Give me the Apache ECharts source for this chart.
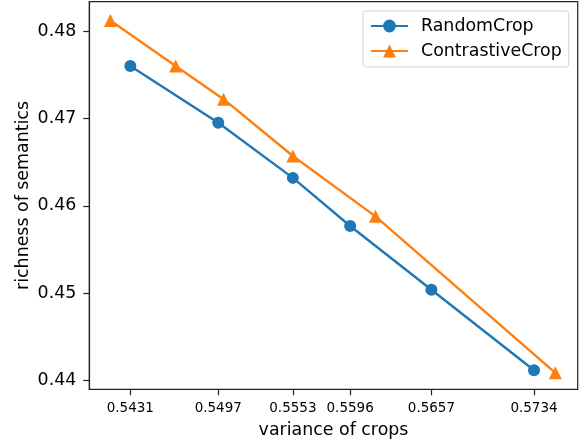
<!DOCTYPE html>
<html>
<head>
<meta charset="utf-8">
<script src="https://cdn.jsdelivr.net/npm/echarts@6/dist/echarts.min.js"></script>
<style>html,body{margin:0;padding:0;background:#fff}#c{width:580px;height:445px}</style>
</head>
<body>
<div id="c"></div>
<script>
const seriesNames = ['RandomCrop', 'ContrastiveCrop'];
const xRandom = [0.5431, 0.5497, 0.5553, 0.5596, 0.5657, 0.5734];
const yRandom = [0.4760, 0.4695, 0.4632, 0.4577, 0.4504, 0.4412];
const xContrastive = [0.5416, 0.5465, 0.5501, 0.5553, 0.5615, 0.5750];
const yContrastive = [0.4812, 0.4760, 0.4722, 0.4657, 0.4588, 0.4409];
const xTicks = [0.5431, 0.5497, 0.5553, 0.5596, 0.5657, 0.5734];
const yTicks = [0.44, 0.45, 0.46, 0.47, 0.48];

const font = 'DejaVu Sans';
const chart = echarts.init(document.getElementById('c'), null, {renderer: 'canvas'});
const pairs = (xs, ys) => xs.map((x, i) => [x, ys[i]]);
chart.setOption({
  animation: false,
  backgroundColor: '#fff',
  grid: {left: 89.3, right: 2.3, top: 1.7, bottom: 55.7, show: true, borderColor: '#222', borderWidth: 1.2, backgroundColor: 'transparent'},
  legend: {
    orient: 'vertical', left: 363, top: 11,
    data: seriesNames,
    itemWidth: 37, itemHeight: 16, itemGap: 5,
    padding: [5, 7, 6, 7],
    backgroundColor: '#fff', borderColor: '#d3d3d3', borderWidth: 1, borderRadius: 3,
    textStyle: {fontFamily: font, fontSize: 17.4, color: '#000', lineHeight: 20, padding: [0, 0, 0, 8]}
  },
  xAxis: {
    type: 'value', min: 0.54002, max: 0.57668,
    name: 'variance of crops', nameLocation: 'middle', nameGap: 33, nameMoveOverlap: false,
    nameTextStyle: {fontFamily: font, fontSize: 17.4, color: '#000'},
    axisLine: {show: true, onZero: false, lineStyle: {color: '#222', width: 1.2}},
    axisTick: {show: true, inside: false, length: 6, customValues: xTicks, lineStyle: {color: '#222', width: 1.2}},
    axisLabel: {customValues: xTicks, formatter: v => v.toFixed(4), fontFamily: font, fontSize: 13.5, color: '#000', margin: 12},
    splitLine: {show: false}
  },
  yAxis: {
    type: 'value', min: 0.43902, max: 0.48335,
    name: 'richness of semantics', nameLocation: 'middle', nameGap: 57, nameRotate: 90, nameMoveOverlap: false,
    nameTextStyle: {fontFamily: font, fontSize: 17.4, color: '#000'},
    axisLine: {show: true, onZero: false, lineStyle: {color: '#222', width: 1.2}},
    axisTick: {show: true, inside: false, length: 6, customValues: yTicks, lineStyle: {color: '#222', width: 1.2}},
    axisLabel: {customValues: yTicks, formatter: v => v.toFixed(2), fontFamily: font, fontSize: 17.4, color: '#000', margin: 13},
    splitLine: {show: false}
  },
  series: [
    {name: seriesNames[0], type: 'line', data: pairs(xRandom, yRandom), symbol: 'circle', symbolSize: 12,
     color: '#1f77b4', lineStyle: {width: 2.4, color: '#1f77b4'}, itemStyle: {color: '#1f77b4'}, z: 2},
    {name: seriesNames[1], type: 'line', data: pairs(xContrastive, yContrastive), symbol: 'triangle', symbolSize: 13,
     color: '#ff7f0e', lineStyle: {width: 2.4, color: '#ff7f0e'}, itemStyle: {color: '#ff7f0e'}, z: 3}
  ]
});
</script>
</body>
</html>
